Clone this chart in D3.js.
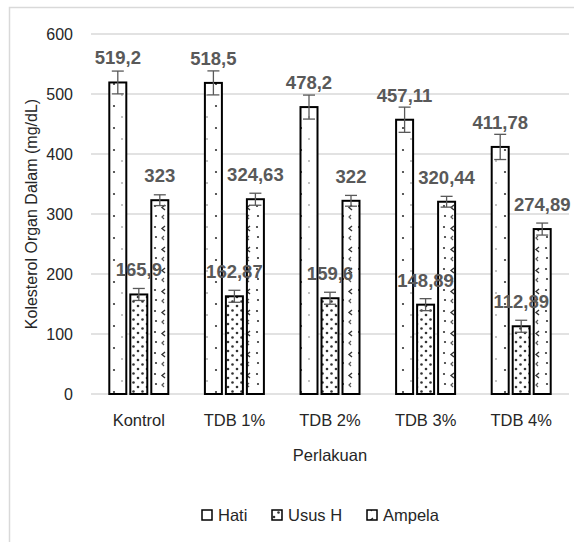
<!DOCTYPE html>
<html>
<head>
<meta charset="utf-8">
<script src="https://cdn.jsdelivr.net/npm/d3@7"></script>
<style>
  body { margin: 0; background: #fff; }
  text { font-family: "Liberation Sans", Arial, sans-serif; }
</style>
</head>
<body>
<div id="chart"></div>
<script>
// data
var categories = ["Kontrol", "TDB 1%", "TDB 2%", "TDB 3%", "TDB 4%"];
var seriesNames = ["Hati", "Usus H", "Ampela"];
var hati = [519.2, 518.5, 478.2, 457.11, 411.78];
var ususH = [165.9, 162.87, 159.6, 148.89, 112.89];
var ampela = [323, 324.63, 322, 320.44, 274.89];
var hatiErr = [19, 20, 20, 21, 21];
var ususErr = [10, 10, 10, 10, 10];
var ampelaErr = [9, 10, 9, 9, 10];
var hatiLabels = ["519,2", "518,5", "478,2", "457,11", "411,78"];
var ususLabels = ["165,9", "162,87", "159,6", "148,89", "112,89"];
var ampelaLabels = ["323", "324,63", "322", "320,44", "274,89"];
var yTicks = [0, 100, 200, 300, 400, 500, 600];

var W = 574, H = 542;
var margin = {top: 34, right: 5, bottom: 148, left: 91};
var width = 569 - margin.left, height = 394 - margin.top;

var svg = d3.select("#chart").append("svg")
  .attr("width", W).attr("height", H);

// outer chart border
svg.append("rect")
  .attr("x", 9.5).attr("y", 7.5).attr("width", 600).attr("height", 600)
  .style("fill", "none").style("stroke", "#d9d9d9").style("stroke-width", 1.5);

// patterns
var defs = svg.append("defs");
var p1 = defs.append("pattern").attr("id", "pHati").attr("patternUnits", "userSpaceOnUse")
  .attr("width", 17).attr("height", 22);
p1.append("rect").attr("width", 17).attr("height", 22).style("fill", "#fff");
p1.append("circle").attr("cx", 6).attr("cy", 6).attr("r", 1.1).style("fill", "#333");
p1.append("circle").attr("cx", 14).attr("cy", 17).attr("r", 0.8).style("fill", "#777");

var p2 = defs.append("pattern").attr("id", "pUsus").attr("patternUnits", "userSpaceOnUse")
  .attr("width", 9).attr("height", 9);
p2.append("rect").attr("width", 9).attr("height", 9).style("fill", "#fff");
p2.append("circle").attr("cx", 2).attr("cy", 2).attr("r", 1.3).style("fill", "#333");
p2.append("circle").attr("cx", 6.5).attr("cy", 6.5).attr("r", 1.3).style("fill", "#333");

var p3 = defs.append("pattern").attr("id", "pAmpela").attr("patternUnits", "userSpaceOnUse")
  .attr("width", 17).attr("height", 21);
p3.append("rect").attr("width", 17).attr("height", 21).style("fill", "#fff");
p3.append("path").attr("d", "M6,3 L3,5.5 L6,8").style("fill", "none").style("stroke", "#333").style("stroke-width", 1.4);
p3.append("circle").attr("cx", 13).attr("cy", 4).attr("r", 1.1).style("fill", "#333");
p3.append("circle").attr("cx", 14).attr("cy", 14).attr("r", 1.1).style("fill", "#333");
p3.append("path").attr("d", "M5,13 L3,15 L5,17").style("fill", "none").style("stroke", "#555").style("stroke-width", 1.2);

var fills = {"Hati": "url(#pHati)", "Usus H": "url(#pUsus)", "Ampela": "url(#pAmpela)"};

var g = svg.append("g").attr("transform", "translate(" + margin.left + "," + margin.top + ")");

var y = d3.scaleLinear().domain([0, 600]).range([height, 0]);
var x0 = d3.scaleBand().domain(categories).range([0, width]);
var x1 = d3.scaleBand().domain(seriesNames).range([-29.5, 29.5]).paddingInner(4 / 21);

// gridlines
g.selectAll(".grid").data(yTicks).enter().append("line")
  .attr("x1", 0).attr("x2", width)
  .attr("y1", function(d) { return y(d); }).attr("y2", function(d) { return y(d); })
  .style("stroke", "#d9d9d9").style("stroke-width", 1.3);

// y tick labels
g.selectAll(".ytick").data(yTicks).enter().append("text")
  .attr("x", -18).attr("y", function(d) { return y(d); }).attr("dy", "0.35em")
  .attr("text-anchor", "end").style("font-size", "16px").style("fill", "#262626")
  .text(function(d) { return d; });

// x labels
g.selectAll(".xtick").data(categories).enter().append("text")
  .attr("x", function(d) { return x0(d) + x0.bandwidth() / 2; }).attr("y", 386)
  .attr("dy", "0.35em").attr("text-anchor", "middle").style("font-size", "16.5px").style("fill", "#262626")
  .text(function(d) { return d; });

var rows = [];
categories.forEach(function(c, i) {
  rows.push({cat: c, s: "Hati", v: hati[i], e: hatiErr[i], lab: hatiLabels[i]});
  rows.push({cat: c, s: "Usus H", v: ususH[i], e: ususErr[i], lab: ususLabels[i]});
  rows.push({cat: c, s: "Ampela", v: ampela[i], e: ampelaErr[i], lab: ampelaLabels[i]});
});
function cx(d) { return x0(d.cat) + x0.bandwidth() / 2 + x1(d.s) + x1.bandwidth() / 2; }

// bars
g.selectAll(".bar").data(rows).enter().append("rect")
  .attr("x", function(d) { return cx(d) - x1.bandwidth() / 2; })
  .attr("y", function(d) { return y(d.v); })
  .attr("width", x1.bandwidth())
  .attr("height", function(d) { return y(0) - y(d.v); })
  .style("fill", function(d) { return fills[d.s]; })
  .style("stroke", "#000").style("stroke-width", 2);

// error bars
var eb = g.selectAll(".err").data(rows).enter().append("g").style("stroke", "#595959").style("stroke-width", 1.3);
eb.append("line").attr("x1", cx).attr("x2", cx)
  .attr("y1", function(d) { return y(d.v + d.e); }).attr("y2", function(d) { return y(d.v - d.e); });
eb.append("line").attr("x1", function(d) { return cx(d) - 6; }).attr("x2", function(d) { return cx(d) + 6; })
  .attr("y1", function(d) { return y(d.v + d.e); }).attr("y2", function(d) { return y(d.v + d.e); });
eb.append("line").attr("x1", function(d) { return cx(d) - 6; }).attr("x2", function(d) { return cx(d) + 6; })
  .attr("y1", function(d) { return y(d.v - d.e); }).attr("y2", function(d) { return y(d.v - d.e); });

// data labels
g.selectAll(".lab").data(rows).enter().append("text")
  .attr("x", cx).attr("y", function(d) { return y(d.v) - 18; })
  .attr("text-anchor", "middle").style("font-size", "18.5px").style("font-weight", "bold")
  .style("fill", "#595959")
  .text(function(d) { return d.lab; });

// axis titles
svg.append("text")
  .attr("transform", "translate(31," + (margin.top + height / 2) + ") rotate(-90)")
  .attr("dy", "0.35em").attr("text-anchor", "middle").style("font-size", "16px").style("fill", "#262626")
  .text("Kolesterol Organ Dalam (mg/dL)");
svg.append("text")
  .attr("x", margin.left + width / 2).attr("y", 455).attr("dy", "0.35em")
  .attr("text-anchor", "middle").style("font-size", "16.5px").style("fill", "#262626")
  .text("Perlakuan");

// legend
var legX = [202, 272, 367];
var leg = svg.selectAll(".leg").data(seriesNames).enter().append("g")
  .attr("transform", function(d, i) { return "translate(" + legX[i] + ",515)"; });
leg.append("rect").attr("x", 0).attr("y", -5).attr("width", 10).attr("height", 10)
  .style("fill", function(d) { return fills[d]; }).style("stroke", "#000").style("stroke-width", 1.5);
leg.append("text").attr("x", 16).attr("y", 0).attr("dy", "0.35em")
  .style("font-size", "16.5px").style("fill", "#262626")
  .text(function(d) { return d; });
</script>
</body>
</html>
